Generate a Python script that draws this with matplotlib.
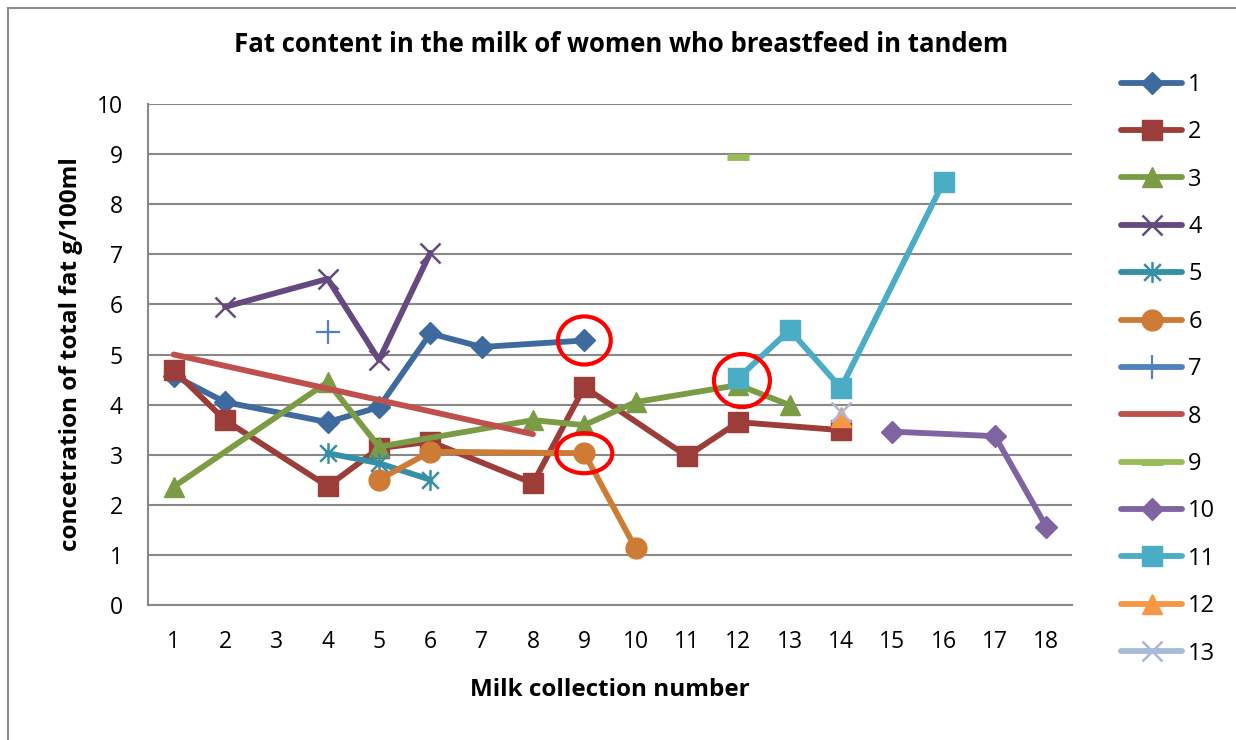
import numpy as np
import matplotlib
matplotlib.use('Agg')
import matplotlib.pyplot as plt
from matplotlib.path import Path
from matplotlib.patches import Ellipse, Rectangle

plt.rcParams['font.family'] = ['Open Sans', 'DejaVu Sans']

# Milk collection numbers (x categories)
collections = list(range(1, 19))
N = None

# Fat content per woman (g/100ml), None = no sample
s1 = [4.58, 4.05, N, 3.65, 3.95, 5.42, 5.15, N, 5.28, N, N, N, N, N, N, N, N, N]
s2 = [4.69, 3.69, N, 2.37, 3.13, 3.26, N, 2.43, 4.35, N, 2.97, 3.65, N, 3.49, N, N, N, N]
s3 = [2.36, N, N, 4.45, 3.16, N, N, 3.69, 3.59, 4.05, N, 4.39, 3.99, N, N, N, N, N]
s4 = [N, 5.95, N, 6.51, 4.89, 7.03, N, N, N, N, N, N, N, N, N, N, N, N]
s5 = [N, N, N, 3.03, 2.83, 2.50, N, N, N, N, N, N, N, N, N, N, N, N]
s6 = [N, N, N, N, 2.50, 3.06, N, N, 3.03, 1.13, N, N, N, N, N, N, N, N]
s7 = [N, N, N, 5.45, N, N, N, N, N, N, N, N, N, N, N, N, N, N]
s8 = [5.00, N, N, N, N, N, N, 3.41, N, N, N, N, N, N, N, N, N, N]
s9 = [N, N, N, N, N, N, N, N, N, N, N, 8.94, N, N, N, N, N, N]
s10 = [N, N, N, N, N, N, N, N, N, N, N, N, N, N, 3.46, N, 3.37, 1.56]
s11 = [N, N, N, N, N, N, N, N, N, N, N, 4.53, 5.49, 4.33, N, 8.45, N, N]
s12 = [N, N, N, N, N, N, N, N, N, N, N, N, N, 3.76, N, N, N, N]
s13 = [N, N, N, N, N, N, N, N, N, N, N, N, N, 3.86, N, N, N, N]

series_names = [str(i) for i in range(1, 14)]
series_values = [s1, s2, s3, s4, s5, s6, s7, s8, s9, s10, s11, s12, s13]

# Excel-like asterisk marker
asterisk = Path([(0, -1), (0, 1), (-0.8, -0.8), (0.8, 0.8), (-0.8, 0.8), (0.8, -0.8)],
                [Path.MOVETO, Path.LINETO] * 3)

styles = [
    dict(color='#3E6A9E', marker='D', ms=11),
    dict(color='#9C3D3A', marker='s', ms=15),
    dict(color='#7B9B45', marker='^', ms=15),
    dict(color='#654A80', marker='x', ms=15, mew=1.8),
    dict(color='#3590A7', marker=asterisk, ms=15, mew=1.8),
    dict(color='#CE7B36', marker='o', ms=15),
    dict(color='#4F81BD', marker='+', ms=17, mew=1.6),
    dict(color='#C0504D', marker=None),
    dict(color='#9BBB59', marker='_', ms=16, mew=5),
    dict(color='#8064A2', marker='D', ms=11),
    dict(color='#4BACC6', marker='s', ms=15),
    dict(color='#F79646', marker='^', ms=15),
    dict(color='#A9B9D8', marker='x', ms=15, mew=1.8),
]

fig = plt.figure(figsize=(12.36, 7.4), dpi=100)
ax = fig.add_axes([148 / 1236, 1 - 605 / 740, 924 / 1236, 501 / 740])

# outer chart border
fig.patches.append(Rectangle((8 / 1236, -0.05), 1.1, 1.05 - 8 / 740, transform=fig.transFigure,
                             fill=False, edgecolor='#8c8c8c', linewidth=1.5))

for name, vals, st in zip(series_names, series_values, styles):
    xs = [c for c, v in zip(collections, vals) if v is not None]
    ys = [v for v in vals if v is not None]
    kw = dict(st)
    color = kw.pop('color')
    ax.plot(xs, ys, color=color, linewidth=4.2, solid_capstyle='round',
            markerfacecolor=color, markeredgecolor=color, label=name, **kw)

# red circles highlighting selected samples
highlights = [(9, s1[8], 1.03, 0.96), (9, s6[8], 1.09, 0.8), (12.07, s11[11] - 0.05, 1.09, 1.06)]
for cx, cy, w, h in highlights:
    ax.add_patch(Ellipse((cx, cy), w, h, fill=False, edgecolor='#FF0000', linewidth=3, zorder=10))

ax.set_xlim(0.5, 18.5)
ax.set_ylim(0, 10)
ax.set_xticks(collections)
ax.set_yticks(range(0, 11))
ax.tick_params(length=0, labelsize=16.5)
ax.tick_params(axis='y', pad=18)
ax.tick_params(axis='x', pad=18)
ax.grid(axis='y', color='#888888', linewidth=1.5)
ax.set_axisbelow(True)
for side in ['top', 'right']:
    ax.spines[side].set_visible(False)
for side in ['left', 'bottom']:
    ax.spines[side].set_color('#888888')
    ax.spines[side].set_linewidth(1.5)

ax.set_xlabel('Milk collection number', fontsize=17.5, fontweight='bold', labelpad=17)
ax.set_ylabel('concetration of total fat g/100ml', fontsize=17.5, fontweight='bold', labelpad=10)
fig.text(621 / 1236, 1 - 45 / 740, 'Fat content in the milk of women who breastfeed in tandem',
         ha='center', va='center', fontsize=18.5, fontweight='bold')

ax.legend(loc='upper left', bbox_to_anchor=(1121 / 1236, 1 - 73 / 740),
          bbox_transform=fig.transFigure, frameon=False, fontsize=17,
          handlelength=2.6, handletextpad=0.25, labelspacing=0.99, borderpad=0,
          borderaxespad=0)

fig.savefig('out.png', dpi=100)
